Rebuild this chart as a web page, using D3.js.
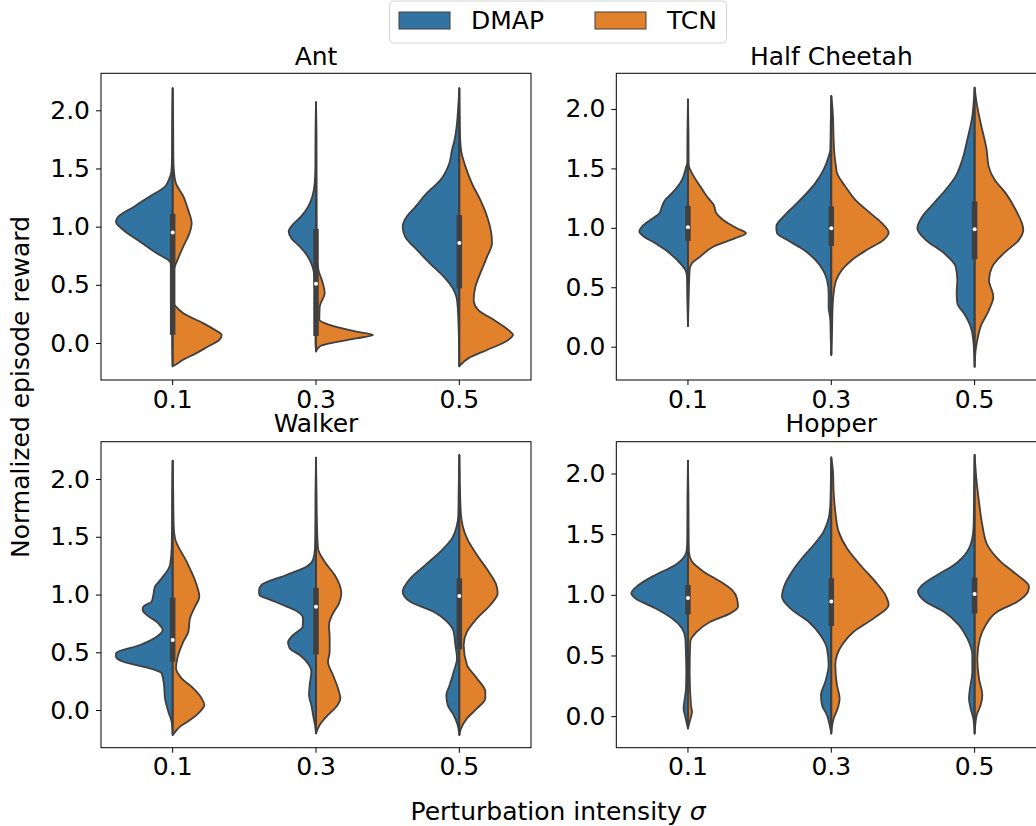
<!DOCTYPE html>
<html>
<head>
<meta charset="utf-8">
<script src="https://cdn.jsdelivr.net/npm/d3@7"></script>
<style>
  body { margin: 0; background: #fff; }
  svg { display: block; font-family: "DejaVu Sans", sans-serif; }
</style>
</head>
<body>
<div id="chart"></div>
<script>
// ---- data ----
const sigmas = ["0.1", "0.3", "0.5"];
const envs = ["Ant", "Half Cheetah", "Walker", "Hopper"];
const methods = ["DMAP", "TCN"];

// y extent of each panel
const yDomains = [[-0.318, 2.318], [-0.28, 2.30], [-0.326, 2.323], [-0.26, 2.262]];
const yTicks = [0, 0.5, 1, 1.5, 2];

// half-violin profiles: [normalized reward, relative density], one list per sigma
const antDMAP = [
  [[2.19,0],[1.9,1.5],[1.6,2],[1.47,4],[1.40,12],[1.344,23],[1.258,70],[1.172,116],[1.086,163],[1.043,170],[0.971,148],[0.871,98],[0.771,48],[0.699,8],[0.656,3],[0.4,2],[0,1.5],[-0.2,0]],
  [[2.07,0],[1.8,1.5],[1.5,2],[1.37,4],[1.26,11],[1.17,24],[1.09,44],[1.01,72],[0.96,82],[0.90,74],[0.83,49],[0.74,24],[0.66,11],[0.60,6],[0.3,2],[0,1.5],[-0.07,0]],
  [[2.19,0],[2.0,4],[1.89,7],[1.75,14],[1.66,22],[1.545,30],[1.40,57],[1.29,97],[1.17,132],[1.09,157],[1.0,170],[0.91,162],[0.80,127],[0.68,87],[0.57,47],[0.48,22],[0.37,7],[0.2,3],[-0.2,0]]
];
const antTCN = [
  [[2.19,0],[1.9,1.5],[1.6,2],[1.47,4],[1.37,10],[1.26,32],[1.14,47],[1.03,57],[0.94,50],[0.83,32],[0.71,14],[0.63,4],[0.45,2.5],[0.34,3],[0.312,10],[0.255,32],[0.169,92],[0.112,127],[0.069,147],[0.026,140],[-0.032,105],[-0.089,70],[-0.146,30],[-0.189,7],[-0.2,0]],
  [[2.07,0],[1.8,1.5],[1.2,2],[0.75,2.5],[0.62,8],[0.51,21],[0.43,26],[0.31,11],[0.20,10],[0.155,41],[0.097,121],[0.069,171],[0.04,121],[-0.003,41],[-0.03,11],[-0.074,0]],
  [[2.19,0],[1.8,2],[1.66,5],[1.52,18],[1.37,38],[1.23,63],[1.09,83],[0.94,96],[0.86,98],[0.74,83],[0.60,63],[0.48,48],[0.37,43],[0.28,58],[0.20,103],[0.11,148],[0.07,161],[0.01,138],[-0.06,83],[-0.13,28],[-0.19,3],[-0.2,0]]
];
const cheetahDMAP = [
  [[2.08,0],[1.8,1.5],[1.545,2],[1.517,5],[1.404,18],[1.348,31],[1.292,48],[1.236,68],[1.18,78],[1.124,85],[1.067,113],[1.011,138],[0.969,146],[0.927,133],[0.871,98],[0.815,68],[0.73,33],[0.646,8],[0.59,3],[0.4,2],[0.174,0]],
  [[2.11,0],[1.9,1.5],[1.657,3],[1.601,8],[1.489,23],[1.376,48],[1.264,83],[1.18,113],[1.096,143],[1.011,165],[0.955,163],[0.899,133],[0.815,83],[0.73,48],[0.646,25],[0.562,13],[0.449,8],[0.337,8],[0.225,3],[0.05,1.5],[-0.07,0]],
  [[2.18,0],[2.05,3],[1.938,7],[1.742,22],[1.573,37],[1.433,57],[1.32,87],[1.208,122],[1.096,157],[0.997,172],[0.899,147],[0.787,92],[0.674,57],[0.562,52],[0.449,54],[0.365,52],[0.281,32],[0.169,12],[0.056,4],[-0.169,0]]
];
const cheetahTCN = [
  [[2.08,0],[1.8,1.5],[1.55,2],[1.517,3],[1.461,12],[1.348,37],[1.264,57],[1.194,77],[1.124,85],[1.053,112],[0.997,147],[0.955,174],[0.913,142],[0.843,77],[0.758,37],[0.702,12],[0.646,5],[0.4,2],[0.174,0]],
  [[2.11,0],[2.022,3],[1.938,5],[1.742,7],[1.6,10],[1.517,14],[1.461,17],[1.348,42],[1.236,72],[1.124,117],[1.039,152],[0.961,172],[0.899,157],[0.815,107],[0.73,62],[0.646,32],[0.562,15],[0.449,7],[0.337,4],[0.1,2],[-0.07,0]],
  [[2.18,0],[2.051,6],[1.882,18],[1.657,36],[1.517,42],[1.404,60],[1.292,93],[1.152,123],[0.983,146],[0.899,133],[0.787,88],[0.674,53],[0.562,43],[0.421,56],[0.309,43],[0.169,18],[0.056,8],[-0.028,3],[-0.169,0]]
];
const walkerDMAP = [
  [[2.16,0],[1.9,1.5],[1.6,2],[1.4,3],[1.255,8],[1.14,33],[1.068,53],[0.996,58],[0.938,63],[0.895,88],[0.866,90],[0.823,78],[0.75,43],[0.693,30],[0.635,48],[0.563,98],[0.491,170],[0.462,170],[0.418,148],[0.361,68],[0.317,33],[0.216,26],[0.101,23],[-0.014,13],[-0.101,3],[-0.216,0]],
  [[2.185,0],[1.9,1.5],[1.6,2],[1.40,3],[1.30,9],[1.241,29],[1.169,89],[1.082,164],[1.039,171],[0.996,170],[0.952,135],[0.909,99],[0.866,64],[0.794,39],[0.722,40],[0.649,69],[0.586,84],[0.534,79],[0.476,49],[0.404,24],[0.332,14],[0.216,19],[0.13,21],[0.043,14],[-0.072,7],[-0.13,3],[-0.202,0]],
  [[2.208,0],[1.9,2],[1.688,3],[1.602,7],[1.486,22],[1.371,57],[1.255,102],[1.14,147],[1.025,170],[0.938,147],[0.851,77],[0.765,37],[0.678,17],[0.563,12],[0.447,7],[0.332,17],[0.216,29],[0.13,39],[0.043,35],[-0.043,17],[-0.13,5],[-0.216,0]]
];
const walkerTCN = [
  [[2.16,0],[1.9,1.5],[1.6,3],[1.486,7],[1.284,42],[1.082,72],[0.981,80],[0.895,67],[0.794,52],[0.678,47],[0.592,32],[0.447,14],[0.361,10],[0.274,27],[0.188,62],[0.101,87],[0.043,95],[-0.014,82],[-0.087,52],[-0.144,22],[-0.202,4],[-0.216,0]],
  [[2.185,0],[1.9,1.5],[1.6,3],[1.40,6],[1.284,26],[1.169,56],[1.082,71],[1.01,76],[0.924,69],[0.837,51],[0.736,39],[0.621,41],[0.505,41],[0.418,36],[0.303,51],[0.188,66],[0.101,73],[0.029,61],[-0.043,36],[-0.13,11],[-0.202,0]],
  [[2.208,0],[1.9,2],[1.688,5],[1.486,23],[1.342,53],[1.198,88],[1.082,111],[1.01,115],[0.909,93],[0.794,53],[0.678,23],[0.563,13],[0.39,23],[0.274,53],[0.159,78],[0.101,78],[0.014,53],[-0.072,23],[-0.159,5],[-0.216,0]]
];
const hopperDMAP = [
  [[2.105,0],[1.8,1.5],[1.5,2],[1.384,3],[1.329,8],[1.246,38],[1.164,98],[1.081,148],[1.012,170],[0.971,158],[0.889,98],[0.806,48],[0.724,18],[0.641,8],[0.503,6],[0.366,5],[0.228,6],[0.118,11],[0.063,13],[-0.006,8],[-0.102,0]],
  [[2.132,0],[1.9,1.5],[1.741,3],[1.631,8],[1.521,23],[1.411,53],[1.301,88],[1.191,118],[1.081,140],[0.985,148],[0.889,123],[0.778,68],[0.668,33],[0.558,13],[0.421,8],[0.283,18],[0.173,31],[0.091,28],[0.008,13],[-0.074,5],[-0.143,0]],
  [[2.154,0],[1.9,1.5],[1.576,3],[1.466,7],[1.357,22],[1.246,62],[1.164,112],[1.081,157],[1.026,170],[0.943,147],[0.861,92],[0.75,47],[0.641,22],[0.503,7],[0.366,7],[0.228,14],[0.146,17],[0.063,12],[-0.019,4],[-0.143,0]]
];
const hopperTCN = [
  [[2.105,0],[1.8,1.5],[1.5,2],[1.35,3],[1.274,12],[1.191,47],[1.109,97],[1.04,132],[0.971,147],[0.902,150],[0.847,127],[0.778,67],[0.696,27],[0.613,7],[0.366,5],[0.091,9],[0.036,12],[-0.047,5],[-0.102,0]],
  [[2.132,0],[2.017,5],[1.851,7],[1.686,12],[1.521,22],[1.384,47],[1.246,87],[1.109,132],[0.999,162],[0.916,172],[0.806,127],[0.696,67],[0.586,32],[0.421,12],[0.256,17],[0.146,25],[0.063,19],[-0.019,7],[-0.143,0]],
  [[2.154,0],[1.934,6],[1.769,13],[1.576,23],[1.411,38],[1.274,78],[1.164,128],[1.067,163],[1.026,160],[0.943,128],[0.861,68],[0.75,33],[0.641,16],[0.476,8],[0.311,13],[0.173,23],[0.091,18],[0.008,6],[-0.143,0]]
];

// inner box: [min, q1, median, q3, max]
const antBox = [[-0.2,0.07,0.95,1.11,2.19],[-0.07,0.06,0.51,0.98,2.07],[-0.2,0.47,0.86,1.10,2.19]];
const cheetahBox = [[0.174,0.89,1.005,1.185,2.08],[-0.07,0.848,0.997,1.18,2.11],[-0.169,0.736,0.989,1.222,2.18]];
const walkerBox = [[-0.216,0.418,0.606,0.973,2.16],[-0.202,0.482,0.895,1.059,2.185],[-0.216,0.525,0.987,1.14,2.208]];
const hopperBox = [[-0.102,0.839,0.974,1.081,2.105],[-0.143,0.743,0.944,1.136,2.132],[-0.143,0.847,1.007,1.142,2.154]];

const dmapData = [antDMAP, cheetahDMAP, walkerDMAP, hopperDMAP];
const tcnData = [antTCN, cheetahTCN, walkerTCN, hopperTCN];
const boxData = [antBox, cheetahBox, walkerBox, hopperBox];

// ---- layout ----
const width = 1036, height = 826;
const panelW = 430;
const panelPos = [
  { left: 101, top: 73.3, h: 306.7 },
  { left: 616.3, top: 73.3, h: 306.7 },
  { left: 101, top: 441.7, h: 306 },
  { left: 616.3, top: 441.7, h: 306 }
];
const colors = { DMAP: "#3274a1", TCN: "#e1812c" };
const edge = "#3f3f3f";
const fontSize = "25px";

const svg = d3.select("#chart")
  .append("svg")
  .attr("width", width)
  .attr("height", height)
  .attr("viewBox", `0 0 ${width} ${height}`);

const drawPanel = (i) => {
  const p = panelPos[i];
  const g = svg.append("g").attr("transform", `translate(${p.left},${p.top})`);

  const x = d3.scaleBand().domain(sigmas).range([0, panelW]);
  const y = d3.scaleLinear().domain(yDomains[i]).range([p.h, 0]);
  const w = d3.scaleLinear().domain([0, 172]).range([0, x.bandwidth() * 0.4]);

  sigmas.forEach((s, j) => {
    const cx = x(s) + x.bandwidth() / 2;

    const leftHalf = d3.area()
      .curve(d3.curveMonotoneY)
      .y(d => y(d[0]))
      .x0(cx)
      .x1(d => cx - w(d[1]));
    const rightHalf = d3.area()
      .curve(d3.curveMonotoneY)
      .y(d => y(d[0]))
      .x0(cx)
      .x1(d => cx + w(d[1]));

    g.append("path")
      .attr("d", leftHalf(dmapData[i][j]))
      .attr("fill", colors.DMAP)
      .attr("stroke", edge)
      .attr("stroke-width", 1.8)
      .attr("stroke-linejoin", "round");
    g.append("path")
      .attr("d", rightHalf(tcnData[i][j]))
      .attr("fill", colors.TCN)
      .attr("stroke", edge)
      .attr("stroke-width", 1.8)
      .attr("stroke-linejoin", "round");

    // inner box
    const [lo, q1, med, q3, hi] = boxData[i][j];
    g.append("line")
      .attr("x1", cx).attr("x2", cx)
      .attr("y1", y(lo)).attr("y2", y(hi))
      .attr("stroke", edge)
      .attr("stroke-width", 1.6);
    g.append("line")
      .attr("x1", cx).attr("x2", cx)
      .attr("y1", y(q1)).attr("y2", y(q3))
      .attr("stroke", edge)
      .attr("stroke-width", 5.5);
    g.append("circle")
      .attr("cx", cx)
      .attr("cy", y(med))
      .attr("r", 2)
      .attr("fill", "white");
  });

  // frame
  g.append("rect")
    .attr("width", panelW)
    .attr("height", p.h)
    .attr("fill", "none")
    .attr("stroke", "#000")
    .attr("stroke-width", 1);

  const leftAxis = d3.axisLeft(y)
    .tickValues(yTicks)
    .tickFormat(d3.format(".1f"))
    .tickSize(5)
    .tickPadding(6);
  const ya = g.append("g").call(leftAxis);

  const bottomAxis = d3.axisBottom(x).tickSize(5).tickPadding(5);
  const xa = g.append("g")
    .attr("transform", `translate(0,${p.h})`)
    .call(bottomAxis);

  [ya, xa].forEach(a => {
    a.select(".domain").remove();
    a.selectAll("text").attr("font-size", fontSize).attr("fill", "#000")
      .attr("font-family", "DejaVu Sans");
    a.selectAll("line").attr("stroke", "#000");
  });

  g.append("text")
    .text(envs[i])
    .attr("x", panelW / 2)
    .attr("y", i < 2 ? -8.5 : -10)
    .attr("text-anchor", "middle")
    .attr("font-size", fontSize);
};

envs.forEach((e, i) => drawPanel(i));

// axis labels
svg.append("text")
  .text("Normalized episode reward")
  .attr("transform", "translate(29,387) rotate(-90)")
  .attr("text-anchor", "middle")
  .attr("font-size", fontSize);

const xl = svg.append("text")
  .attr("x", 558)
  .attr("y", 820)
  .attr("text-anchor", "middle")
  .attr("font-size", fontSize);
xl.append("tspan").text("Perturbation intensity ");
xl.append("tspan").text("σ").attr("font-style", "italic");

// legend
const legend = svg.append("g");
legend.append("rect")
  .attr("x", 389.5).attr("y", 1)
  .attr("width", 337).attr("height", 42)
  .attr("rx", 4)
  .attr("fill", "white")
  .attr("stroke", "#d4d4d4")
  .attr("stroke-width", 1);
const legendX = [399, 595];
methods.forEach((m, k) => {
  legend.append("rect")
    .attr("x", legendX[k]).attr("y", 12)
    .attr("width", 51).attr("height", 17)
    .attr("fill", colors[m])
    .attr("stroke", edge)
    .attr("stroke-width", 1);
  legend.append("text")
    .text(m)
    .attr("x", legendX[k] + 72)
    .attr("y", 29)
    .attr("font-size", fontSize);
});
</script>
</body>
</html>
